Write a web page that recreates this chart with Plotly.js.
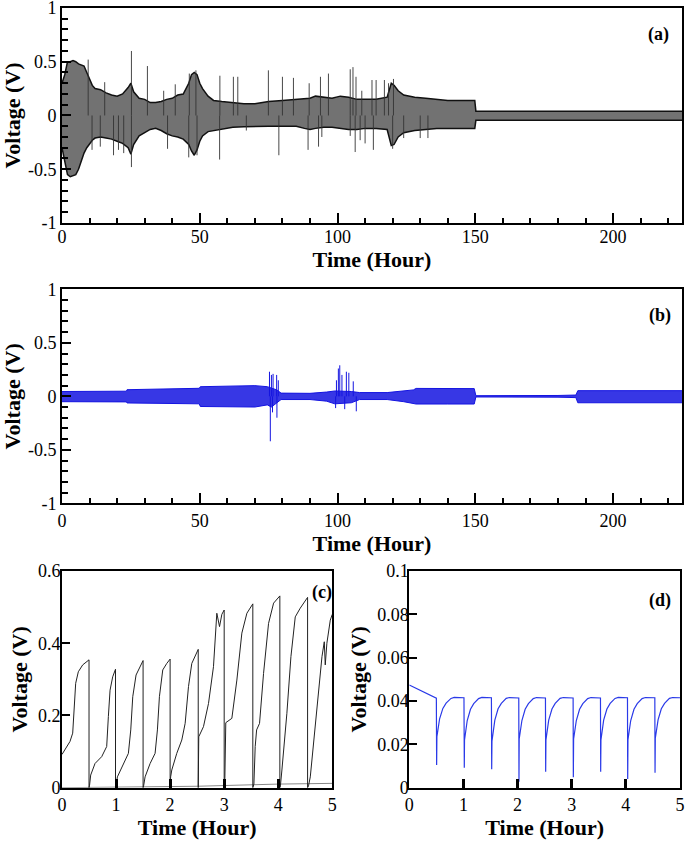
<!DOCTYPE html>
<html><head><meta charset="utf-8">
<script src="https://cdn.plot.ly/plotly-3.0.1.min.js"></script>
<style>html,body{margin:0;padding:0;background:#fff}#chart{width:685px;height:842px}</style>
</head><body><div id="chart"></div>
<script>
// ---------- Panel (a): envelope of cycling voltage (black) ----------
const aEnvT  = [0,1,2,3,4,5,6,7,8,9,10,11,12,14,16,18,20,22,24,25,26,28,30,32,34,36,38,40,42,44,46,47,48,49,50,51,53,55,58,62,66,70,75,80,85,88,90,92,95,98,101,104,107,110,114,118,119.5,120.5,122,124,128,132,136,140,145,149.8,150.2,160,180,200,225];
const aEnvHi = [0.30,0.38,0.50,0.50,0.51,0.50,0.48,0.47,0.46,0.40,0.34,0.28,0.25,0.24,0.21,0.19,0.18,0.20,0.26,0.30,0.22,0.16,0.15,0.12,0.12,0.13,0.15,0.16,0.19,0.20,0.30,0.38,0.40,0.38,0.30,0.25,0.18,0.14,0.13,0.12,0.11,0.11,0.13,0.14,0.15,0.15,0.16,0.18,0.17,0.16,0.18,0.17,0.15,0.15,0.15,0.17,0.30,0.28,0.23,0.19,0.17,0.16,0.15,0.14,0.14,0.14,0.04,0.04,0.04,0.04,0.04];
const aEnvLo = [-0.30,-0.42,-0.55,-0.57,-0.56,-0.55,-0.50,-0.42,-0.35,-0.30,-0.26,-0.23,-0.21,-0.20,-0.21,-0.22,-0.24,-0.26,-0.30,-0.36,-0.27,-0.19,-0.16,-0.13,-0.12,-0.14,-0.17,-0.19,-0.20,-0.22,-0.27,-0.33,-0.37,-0.32,-0.24,-0.19,-0.15,-0.14,-0.13,-0.11,-0.105,-0.10,-0.10,-0.10,-0.10,-0.12,-0.13,-0.12,-0.11,-0.11,-0.12,-0.13,-0.13,-0.12,-0.12,-0.13,-0.28,-0.27,-0.20,-0.16,-0.14,-0.13,-0.12,-0.12,-0.12,-0.12,-0.045,-0.045,-0.045,-0.045,-0.045];
const aUpT = [9.5,15.5,25.2,31.0,36.9,41.1,46.2,48.6,57.3,62.2,63.8,74.9,80.0,84.0,89.7,93.8,96.7,104.6,105.6,106.7,108.8,112.5,114.0,117.0,118.5,120.3];
const aUpV = [0.52,0.31,0.60,0.46,0.23,0.29,0.39,0.42,0.37,0.36,0.36,0.42,0.36,0.35,0.30,0.36,0.39,0.43,0.45,0.36,0.23,0.33,0.33,0.33,0.30,0.34];
const aDnT = [10.9,13.9,18.7,20.5,22.4,25.2,38.3,46.0,49.0,57.2,66.9,78.7,89.3,93.1,94.3,104.6,106.4,108.2,110.0,113.0,120.0,124.0,130.0,132.8];
const aDnV = [-0.32,-0.29,-0.37,-0.32,-0.35,-0.48,-0.31,-0.39,-0.37,-0.41,-0.14,-0.37,-0.32,-0.29,-0.20,-0.19,-0.34,-0.23,-0.26,-0.32,-0.31,-0.21,-0.21,-0.21];

// ---------- Panel (b): envelope of cycling voltage (blue) ----------
const bEnvT  = [0,15,23.4,23.6,35,47,49.8,50.2,60,70,74.5,76,78,79.5,90,96,99,105,108,118,124,127.5,128.5,140,149.6,150.2,165,180,186.5,187.2,225];
const bEnvHi = [0.045,0.045,0.048,0.062,0.065,0.072,0.075,0.09,0.095,0.10,0.09,0.08,0.06,0.03,0.028,0.04,0.05,0.045,0.035,0.035,0.05,0.06,0.074,0.074,0.072,0.006,0.004,0.008,0.012,0.053,0.053];
const bEnvLo = [-0.05,-0.05,-0.052,-0.062,-0.065,-0.068,-0.07,-0.095,-0.10,-0.10,-0.08,-0.10,-0.06,-0.03,-0.03,-0.045,-0.07,-0.06,-0.03,-0.03,-0.05,-0.065,-0.072,-0.072,-0.072,-0.006,-0.004,-0.008,-0.012,-0.06,-0.06];
const bUpT = [75.3,76.0,76.6,77.9,78.5,99.6,100.3,100.8,101.6,103.2,104.1,105.7];
const bUpV = [0.23,0.20,0.21,0.20,0.15,0.15,0.26,0.29,0.20,0.23,0.22,0.14];
const bDnT = [75.6,76.4,78.0,99.3,102.6,106.8];
const bDnV = [-0.42,-0.15,-0.20,-0.11,-0.12,-0.14];

// ---------- Panel (c): first 5 hours (black) ----------
const cT = [0,0.148,0.198,0.222,0.253,0.302,0.383,0.5,0.5,
  0.51,0.531,0.611,0.735,0.827,0.858,0.889,0.938,0.99,0.99,
  1.0,1.025,1.136,1.228,1.272,1.309,1.37,1.5,1.5,
  1.51,1.537,1.63,1.722,1.765,1.802,1.864,1.938,2.0,2.0,
  2.01,2.031,2.123,2.216,2.278,2.34,2.401,2.52,2.52,
  2.53,2.617,2.71,2.802,2.864,2.914,2.957,3.0,3.0,
  3.01,3.03,3.08,3.142,3.235,3.327,3.42,3.53,3.53,
  3.55,3.574,3.6,3.654,3.728,3.821,3.914,4.03,4.03,
  4.04,4.068,4.16,4.235,4.315,4.407,4.5,4.543,4.543,
  4.56,4.593,4.716,4.809,4.852,4.87,4.9,4.963,5.0];
const cV = [0.092,0.128,0.151,0.215,0.289,0.321,0.340,0.354,0.0,
  0.007,0.035,0.067,0.086,0.114,0.197,0.270,0.307,0.328,0.0,
  0.005,0.030,0.067,0.095,0.160,0.252,0.312,0.352,0.0,
  0.005,0.030,0.067,0.095,0.160,0.252,0.326,0.344,0.356,0.0,
  0.030,0.049,0.095,0.132,0.178,0.280,0.344,0.383,0.0,
  0.141,0.169,0.233,0.335,0.483,0.446,0.480,0.492,0.0,
  0.0,0.180,0.185,0.192,0.298,0.428,0.483,0.509,0.0,
  0.010,0.114,0.160,0.178,0.316,0.455,0.511,0.531,0.0,
  0.005,0.049,0.206,0.363,0.473,0.497,0.520,0.527,0.0,
  0.005,0.030,0.224,0.363,0.404,0.340,0.400,0.464,0.480];
const cBaseT = [0,2.5,4,5];
const cBaseV = [0,0.004,0.010,0.012];

// ---------- Panel (d): first 5 hours (blue) ----------
const dT = [0,0.5,
  0.505,0.51,0.56,0.62,0.68,0.77,0.83,1.01,
  1.016,1.02,1.07,1.13,1.19,1.28,1.34,1.517,
  1.522,1.527,1.58,1.64,1.70,1.79,1.85,2.022,
  2.026,2.03,2.08,2.14,2.20,2.29,2.35,2.515,
  2.519,2.524,2.575,2.635,2.695,2.785,2.845,3.026,
  3.03,3.035,3.085,3.145,3.205,3.295,3.355,3.531,
  3.535,3.54,3.59,3.65,3.71,3.80,3.86,4.03,
  4.034,4.039,4.09,4.15,4.21,4.30,4.36,4.535,
  4.539,4.544,4.595,4.655,4.715,4.805,4.865,5.0];
const dV = [0.0474,0.0413,
  0.0105,0.0235,0.0318,0.0366,0.0390,0.0412,0.0417,0.0415,
  0.0092,0.0220,0.0310,0.0362,0.0388,0.0411,0.0417,0.0415,
  0.0085,0.0215,0.0312,0.0364,0.0389,0.0412,0.0416,0.0414,
  0.0027,0.0225,0.0310,0.0362,0.0388,0.0411,0.0416,0.0414,
  0.0074,0.0220,0.0312,0.0363,0.0389,0.0412,0.0416,0.0414,
  0.0048,0.0225,0.0310,0.0362,0.0388,0.0411,0.0416,0.0414,
  0.0074,0.0220,0.0312,0.0363,0.0389,0.0412,0.0417,0.0415,
  0.0040,0.0222,0.0310,0.0362,0.0388,0.0411,0.0416,0.0415,
  0.0069,0.0228,0.0313,0.0364,0.0389,0.0412,0.0416,0.0415];

// ---------- Tick labels ----------
const bigXTicks = [0,50,100,150,200];
const bigYTicks = [-1,-0.5,0,0.5,1];
const bigYText  = ['-1','-0.5','0','0.5','1'];
const smallXTicks = [0,1,2,3,4,5];
const cYTicks = [0,0.2,0.4,0.6];
const cYText  = ['0','0.2','0.4','0.6'];
const dYTicks = [0,0.02,0.04,0.06,0.08,0.1];
const dYText  = ['0','0.02','0.04','0.06','0.08','0.1'];
const panelLabels = ['(a)','(b)','(c)','(d)'];

const FONT = 'Liberation Serif';

function spikes(ts, vs){
  const x=[], y=[];
  ts.forEach((t,i)=>{ x.push(t,t,null); y.push(0,vs[i],null); });
  return {x,y};
}

const aUp = spikes(aUpT,aUpV), aDn = spikes(aDnT,aDnV);
const bUp = spikes(bUpT,bUpV), bDn = spikes(bDnT,bDnV);

const traces = [
  {x:aEnvT, y:aEnvHi, xaxis:'x', yaxis:'y', mode:'lines', line:{color:'#111',width:1.5}, hoverinfo:'skip'},
  {x:aEnvT, y:aEnvLo, xaxis:'x', yaxis:'y', mode:'lines', line:{color:'#111',width:1.5}, fill:'tonexty', fillcolor:'rgba(60,60,60,0.72)', hoverinfo:'skip'},
  {x:aUp.x, y:aUp.y, xaxis:'x', yaxis:'y', mode:'lines', line:{color:'#333',width:0.9}, hoverinfo:'skip'},
  {x:aDn.x, y:aDn.y, xaxis:'x', yaxis:'y', mode:'lines', line:{color:'#333',width:0.9}, hoverinfo:'skip'},

  {x:bEnvT, y:bEnvHi, xaxis:'x2', yaxis:'y2', mode:'lines', line:{color:'#1414e0',width:1}, hoverinfo:'skip'},
  {x:bEnvT, y:bEnvLo, xaxis:'x2', yaxis:'y2', mode:'lines', line:{color:'#1414e0',width:1}, fill:'tonexty', fillcolor:'rgba(20,20,225,0.85)', hoverinfo:'skip'},
  {x:bUp.x, y:bUp.y, xaxis:'x2', yaxis:'y2', mode:'lines', line:{color:'#1414e0',width:1}, hoverinfo:'skip'},
  {x:bDn.x, y:bDn.y, xaxis:'x2', yaxis:'y2', mode:'lines', line:{color:'#1414e0',width:1}, hoverinfo:'skip'},

  {x:cBaseT, y:cBaseV, xaxis:'x3', yaxis:'y3', mode:'lines', line:{color:'#888',width:1}, hoverinfo:'skip'},
  {x:cT, y:cV, xaxis:'x3', yaxis:'y3', mode:'lines', line:{color:'#222',width:1}, hoverinfo:'skip'},

  {x:dT, y:dV, xaxis:'x4', yaxis:'y4', mode:'lines', line:{color:'#2a3ae8',width:1.2}, hoverinfo:'skip'}
];

const titleFont = {family:FONT, size:22, color:'#000', weight:700};
const tickFont = {family:FONT, size:18, color:'#000'};
const common = {showline:true, linewidth:2, linecolor:'#000', mirror:true, showgrid:false, zeroline:false,
  ticks:'inside', tickcolor:'#000', tickfont:tickFont, fixedrange:true, ticklabeloverflow:'allow'};

function bigX(anchor, domain, shift){
  return Object.assign({}, common, {domain, anchor, range:[0,225], tickmode:'array', tickvals:bigXTicks,
    ticklen:10, tickwidth:2, ticklabelstandoff:shift, minor:{dtick:10, tick0:0, ticks:'inside', ticklen:5, tickwidth:2, tickcolor:'#000'},
    title:{text:'Time (Hour)', font:titleFont, standoff:4}});
}
function bigY(anchor, domain){
  return Object.assign({}, common, {domain, anchor, range:[-1.0001,1.0001], tickmode:'array', tickvals:bigYTicks, ticktext:bigYText,
    ticklen:9, tickwidth:2, minor:{dtick:0.1, tick0:0, ticks:'inside', ticklen:6, tickwidth:2, tickcolor:'#000'},
    title:{text:'Voltage (V)', font:titleFont, standoff:9}});
}
function smallX(anchor, domain){
  return Object.assign({}, common, {domain, anchor, range:[0,5], tickmode:'array', tickvals:smallXTicks,
    ticklen:9, tickwidth:3, title:{text:'Time (Hour)', font:titleFont, standoff:4}});
}
function smallY(anchor, domain, range, vals, text, shift){
  return Object.assign({}, common, {domain, anchor, range, tickmode:'array', tickvals:vals, ticktext:text,
    ticklen:8, tickwidth:2, ticklabelstandoff:shift, title:{text:'Voltage (V)', font:titleFont, standoff:4}});
}

const layout = {
  width:685, height:842, margin:{l:0,r:0,t:0,b:0}, paper_bgcolor:'#fff', plot_bgcolor:'#fff', showlegend:false,
  font:{family:FONT, color:'#000', size:18},
  xaxis: bigX('y', [0.0905,0.9956], -4),
  yaxis: bigY('x', [0.7352,0.9905]),
  xaxis2: bigX('y2', [0.0905,0.9956], 0),
  yaxis2: bigY('x2', [0.4022,0.6564]),
  xaxis3: smallX('y3', [0.0905,0.4851]),
  yaxis3: smallY('x3', [0.0645,0.3219], [0,0.6001], cYTicks, cYText, -4),
  xaxis4: smallX('y4', [0.5975,0.9927]),
  yaxis4: smallY('x4', [0.0645,0.3219], [0,0.10001], dYTicks, dYText, -5),
  annotations: [
    {text:panelLabels[0], xref:'paper', yref:'paper', x:658/685, y:1-34/842, showarrow:false, xanchor:'center', yanchor:'middle', font:{family:FONT,size:18,weight:700,color:'#000'}},
    {text:panelLabels[1], xref:'paper', yref:'paper', x:660/685, y:1-316/842, showarrow:false, xanchor:'center', yanchor:'middle', font:{family:FONT,size:18,weight:700,color:'#000'}},
    {text:panelLabels[2], xref:'paper', yref:'paper', x:322/685, y:1-592/842, showarrow:false, xanchor:'center', yanchor:'middle', font:{family:FONT,size:18,weight:700,color:'#000'}},
    {text:panelLabels[3], xref:'paper', yref:'paper', x:660/685, y:1-600/842, showarrow:false, xanchor:'center', yanchor:'middle', font:{family:FONT,size:18,weight:700,color:'#000'}}
  ]
};

Plotly.newPlot('chart', traces, layout, {staticPlot:true, displayModeBar:false});
</script></body></html>
